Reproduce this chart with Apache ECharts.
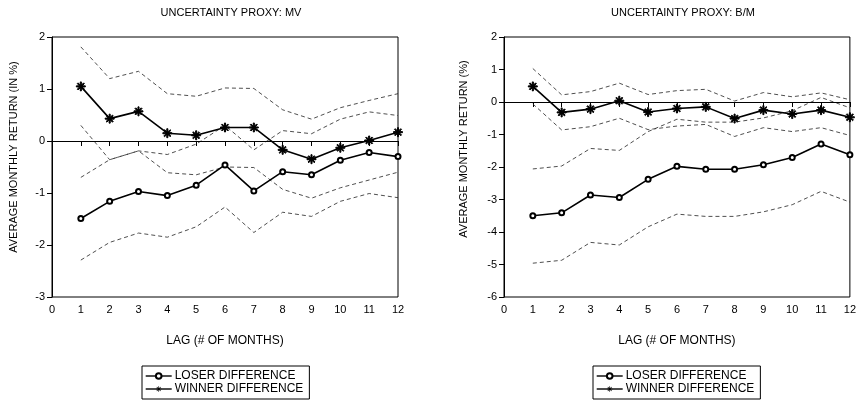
<!DOCTYPE html>
<html>
<head>
<meta charset="utf-8">
<script src="https://cdn.jsdelivr.net/npm/echarts@6/dist/echarts.min.js"></script>
<style>
  html, body { margin: 0; padding: 0; background: #fff; }
  #chart { width: 859px; height: 401px; }
</style>
</head>
<body>
<div id="chart"></div>
<script>
// lag in months
const lags = [1, 2, 3, 4, 5, 6, 7, 8, 9, 10, 11, 12];

// uncertainty proxy: MV
const mvLoser = [-1.49, -1.16, -0.97, -1.05, -0.85, -0.46, -0.96, -0.59, -0.65, -0.37, -0.22, -0.30];
const mvLoserUp = [-0.70, -0.36, -0.19, -0.26, -0.06, 0.30, -0.17, 0.20, 0.14, 0.42, 0.56, 0.49];
const mvLoserLo = [-2.29, -1.95, -1.77, -1.85, -1.65, -1.27, -1.76, -1.37, -1.45, -1.16, -1.01, -1.09];
const mvWinner = [1.05, 0.43, 0.57, 0.15, 0.11, 0.26, 0.26, -0.17, -0.35, -0.13, 0.01, 0.17];
const mvWinnerUp = [1.81, 1.20, 1.34, 0.91, 0.86, 1.02, 1.01, 0.60, 0.42, 0.64, 0.78, 0.91];
const mvWinnerLo = [0.30, -0.36, -0.19, -0.61, -0.65, -0.50, -0.51, -0.93, -1.10, -0.90, -0.75, -0.60];

// uncertainty proxy: B/M
const bmLoser = [-3.50, -3.41, -2.86, -2.94, -2.38, -1.98, -2.07, -2.07, -1.93, -1.71, -1.29, -1.62];
const bmLoserUp = [-2.06, -1.97, -1.43, -1.49, -0.91, -0.53, -0.62, -0.62, -0.49, -0.27, 0.14, -0.18];
const bmLoserLo = [-4.96, -4.87, -4.32, -4.40, -3.84, -3.45, -3.52, -3.52, -3.38, -3.16, -2.75, -3.08];
const bmWinner = [0.48, -0.32, -0.22, 0.04, -0.31, -0.20, -0.15, -0.51, -0.25, -0.37, -0.25, -0.47];
const bmWinnerUp = [1.03, 0.22, 0.32, 0.58, 0.23, 0.35, 0.39, 0.03, 0.29, 0.16, 0.28, 0.07];
const bmWinnerLo = [-0.06, -0.86, -0.76, -0.50, -0.85, -0.74, -0.69, -1.06, -0.79, -0.91, -0.79, -1.03];

const LOSER = 'LOSER DIFFERENCE';
const WINNER = 'WINNER DIFFERENCE';
const FONT = 'Liberation Sans, Arial, sans-serif';

const star = 'path://M4.4 0L5.6 0L5.6 10L4.4 10Z M0 4.4L10 4.4L10 5.6L0 5.6Z M1.92 1.08L8.92 8.08L8.08 8.92L1.08 1.92Z M8.08 1.08L8.92 1.92L1.92 8.92L1.08 8.08Z';

const pairs = vals => vals.map((v, i) => [lags[i], v]);

function mainLine (name, vals, idx, symbol, size) {
  return {
    name: name, type: 'line', xAxisIndex: idx, yAxisIndex: idx,
    data: pairs(vals), symbol: symbol, symbolSize: size,
    showSymbol: true, z: 5,
    lineStyle: { color: '#000', width: 1.6 },
    itemStyle: { color: '#000', borderColor: '#000', borderWidth: 1 }
  };
}
function bandLine (vals, idx) {
  return {
    type: 'line', xAxisIndex: idx, yAxisIndex: idx, data: pairs(vals),
    symbol: 'none', silent: true, z: 3,
    lineStyle: { color: '#222', width: 0.8, type: [4, 3] }
  };
}
function zeroLine (idx) {
  return {
    type: 'line', xAxisIndex: idx, yAxisIndex: idx, data: [], silent: true,
    markLine: {
      silent: true, symbol: 'none', label: { show: false },
      lineStyle: { color: '#000', width: 1, type: 'solid' },
      data: [{ yAxis: 0 }]
    }
  };
}

function xAx (idx) {
  return {
    type: 'value', gridIndex: idx, min: 0, max: 12, interval: 1,
    name: 'LAG (# OF MONTHS)', nameLocation: 'middle', nameGap: 38,
    nameTextStyle: { fontSize: 12, color: '#000', fontFamily: FONT },
    axisLine: { lineStyle: { color: '#000', width: 1 } },
    axisTick: { inside: false, length: 5, lineStyle: { color: '#000' } },
    axisLabel: { fontSize: 11, color: '#000', fontFamily: FONT, margin: 7 },
    splitLine: { show: false }
  };
}
function yAx (idx, min, name, gap, lift) {
  return {
    type: 'value', gridIndex: idx, min: min, max: 2, interval: 1,
    name: name, nameLocation: 'middle', nameGap: gap,
    nameTextStyle: { fontSize: 11, color: '#000', fontFamily: FONT, padding: [0, 0, 0, lift] },
    axisLine: { lineStyle: { color: '#000', width: 1 } },
    axisTick: { length: 5, lineStyle: { color: '#000' } },
    axisLabel: { fontSize: 11, color: '#000', fontFamily: FONT, margin: 7 },
    splitLine: { show: false }
  };
}
function legendBox (left) {
  return {
    data: [LOSER, WINNER], orient: 'vertical', left: left, top: 366, bottom: -60,
    borderColor: '#000', borderWidth: 1, borderRadius: 0,
    padding: [4, 6, 4, 3], itemGap: 1, itemWidth: 26, itemHeight: 7,
    selectedMode: false,
    itemStyle: { borderWidth: 0 },
    lineStyle: { width: 1.4 },
    textStyle: { fontSize: 12, color: '#000', fontFamily: FONT, lineHeight: 12, padding: [0, 0, 0, -2] }
  };
}

const chart = echarts.init(document.getElementById('chart'));
chart.setOption({
  animation: false,
  backgroundColor: '#fff',
  title: [
    { text: 'UNCERTAINTY PROXY: MV', left: 226, top: 2, textAlign: 'center',
      textStyle: { fontSize: 11, fontWeight: 'normal', color: '#000', fontFamily: FONT } },
    { text: 'UNCERTAINTY PROXY: B/M', left: 678, top: 2, textAlign: 'center',
      textStyle: { fontSize: 11, fontWeight: 'normal', color: '#000', fontFamily: FONT } }
  ],
  legend: [legendBox(142), legendBox(593)],
  grid: [
    { left: 52, right: 461, top: 37, bottom: 104, show: true, borderColor: '#000', borderWidth: 1 },
    { left: 504, right: 8, top: 37, bottom: 104, show: true, borderColor: '#000', borderWidth: 1 }
  ],
  xAxis: [xAx(0), xAx(1)],
  yAxis: [
    yAx(0, -3, 'AVERAGE MONTHLY RETURN (IN %)', 33, 20),
    yAx(1, -6, 'AVERAGE MONTHLY RETURN (%)', 35, 36)
  ],
  series: [
    zeroLine(0),
    bandLine(mvLoserUp, 0), bandLine(mvLoserLo, 0),
    bandLine(mvWinnerUp, 0), bandLine(mvWinnerLo, 0),
    mainLine(LOSER, mvLoser, 0, 'emptyCircle', 5),
    mainLine(WINNER, mvWinner, 0, star, 9),
    zeroLine(1),
    bandLine(bmLoserUp, 1), bandLine(bmLoserLo, 1),
    bandLine(bmWinnerUp, 1), bandLine(bmWinnerLo, 1),
    mainLine(LOSER, bmLoser, 1, 'emptyCircle', 5),
    mainLine(WINNER, bmWinner, 1, star, 9)
  ]
});
</script>
</body>
</html>
